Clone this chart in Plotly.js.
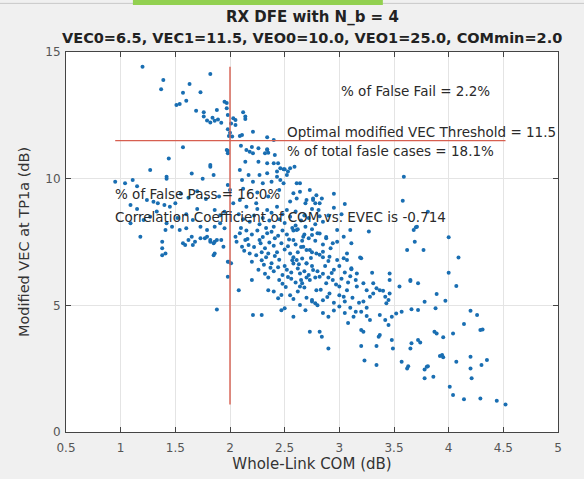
<!DOCTYPE html>
<html>
<head>
<meta charset="utf-8">
<script src="https://cdn.plot.ly/plotly-3.0.1.min.js"></script>
<style>
html,body{margin:0;padding:0;background:#f0f0f0;}
#chart{width:584px;height:479px;}
</style>
</head>
<body>
<div id="chart"></div>
<script>
// ---- data: [Whole-Link COM (dB), Modified VEC at TP1a (dB)] ----
const ptsUpperLeft = [
[1.20,14.42],[1.39,13.89],[1.37,13.53],[1.63,13.74],[1.82,14.13],[1.57,13.39],[1.73,13.41],[1.60,13.08],
[1.51,12.91],[1.54,12.95],[1.69,12.68],[1.76,12.62],[1.88,12.71],[1.95,13.04],[1.82,12.22],[1.86,12.29],
[1.89,12.34],[1.92,12.21],[1.84,12.40],[1.98,12.51],[2.01,12.18],[2.05,12.32],[2.12,12.62],[2.14,12.36],
[1.98,11.95],[2.00,11.81],[1.99,11.68],[2.21,11.85],[2.09,11.68],[2.34,11.63],[1.97,12.99],[1.97,12.78],
[2.14,12.45],[2.03,12.38],[2.05,12.12],[2.02,11.66],[2.11,11.72],[2.40,11.53],[1.79,12.30],[1.76,12.45]
];
const ptsLeft = [
[1.57,11.24],[1.98,11.10],[1.97,11.13],[1.98,11.00],[1.44,10.80],[1.27,10.34],[1.82,10.47],[1.42,10.08],
[1.42,10.00],[1.11,9.95],[0.95,9.88],[1.04,9.82],[1.15,9.70],[1.24,9.16],[1.30,9.09],[1.34,9.03],
[1.40,8.96],[1.45,8.89],[1.50,9.03],[1.85,10.14],[1.82,10.54],[1.98,9.75],[2.00,9.55],[1.86,8.76],
[1.91,8.56],[1.95,8.69],[1.42,8.24],[1.47,8.10],[1.54,7.97],[1.60,8.04],[1.66,8.37],[1.73,8.10],
[1.79,7.97],[1.86,8.10],[1.91,8.24],[1.95,8.04],[1.21,8.37],[1.09,8.24],[1.09,8.96],[1.18,7.71],
[1.38,7.51],[1.38,7.25],[1.41,7.05],[1.57,7.45],[1.62,7.58],[1.66,7.38],[1.65,7.71],[1.73,7.65],
[1.79,7.71],[1.82,7.51],[1.85,7.45],[1.88,7.58],[1.41,7.97],[1.38,6.98],[1.59,7.38],[1.68,7.51],
[1.86,7.05],[1.98,6.72],[1.98,6.13],[1.88,4.84],[1.55,9.40],[1.62,9.25],[1.70,9.50],[1.78,9.20],
[1.90,9.30],[1.70,8.80],[1.60,8.60],[1.52,8.45],[1.33,8.70],[1.27,8.50],[1.15,8.80],[1.75,10.00],
[1.65,10.20],[1.77,7.65],[1.82,7.58],[1.86,7.51],[1.92,7.58],[1.94,7.31],[1.85,6.98]
];
const ptsUpperCenter = [
[2.15,11.13],[2.18,11.06],[2.21,11.00],[2.32,11.00],[2.35,11.02],[2.34,11.13],[2.34,11.16],[2.41,10.93],
[2.14,10.67],[2.26,10.67],[2.34,10.61],[2.44,10.61],[2.46,10.41],[2.49,10.37],[2.53,10.28],[2.59,10.47],
[2.43,10.28],[2.50,10.37],[2.40,10.61],[2.55,10.41],[2.09,10.34],[2.17,10.14],[2.11,9.95],[2.27,10.14],
[2.34,10.21],[2.43,10.08],[2.52,10.14],[2.21,9.88],[2.30,9.82],[2.38,9.88],[2.46,9.95],[2.49,9.82],
[2.61,9.82],[2.64,9.48],[2.73,9.55],[2.76,9.16],[2.69,9.03],[2.64,9.82],[2.79,9.35],[2.84,9.22],
[2.78,9.03],[2.61,9.22],[2.58,9.42],[2.70,9.16],[2.76,9.22],[2.82,9.03],[2.81,8.76],[2.03,9.03],
[2.09,9.16],[2.15,8.89],[2.24,9.03],[2.34,8.76],[2.43,8.89],[2.52,8.76],[2.12,9.60],[2.25,9.45],
[2.35,9.30],[2.45,9.55],[2.55,9.10],[2.95,9.40],[3.05,9.00],[2.10,11.30],[2.20,11.25],[2.26,11.20],
[3.59,10.08],[3.58,9.13],[3.81,8.69],[3.71,8.10]
];
const ptsCore = [
[1.99,6.72],[2.01,6.66],[2.08,5.60],[2.05,7.71],[2.06,7.51],[2.09,7.85],[2.11,7.31],[2.14,7.58],
[2.17,7.38],[2.24,6.98],[2.29,7.10],[2.33,6.90],[2.35,7.05],[2.20,6.72],[2.31,6.60],[2.38,6.66],
[2.44,6.50],[2.34,7.85],[2.41,7.65],[2.47,7.45],[2.54,7.60],[2.60,7.40],[2.66,7.55],[2.35,6.10],
[2.45,6.00],[2.48,5.85],[2.56,6.05],[2.60,5.90],[2.65,6.00],[2.70,6.10],[2.45,6.80],[2.50,6.55],
[2.58,6.65],[2.66,6.85],[2.70,6.65],[2.75,6.55],[2.80,6.35],[2.65,7.30],[2.70,7.18],[2.75,7.10],
[2.82,7.00],[2.85,6.90],[2.90,6.75],[2.68,7.80],[2.72,7.65],[2.78,7.55],[2.85,7.40],[2.92,7.25],
[2.40,5.55],[2.55,5.40],[2.58,5.25],[2.70,5.30],[2.75,5.15],[2.80,5.00],[2.85,5.20],[2.95,5.10],
[2.62,5.55],[2.68,5.70],[2.47,4.81],[2.50,4.88],[2.58,4.55],[2.64,5.01],[2.69,4.81],[2.73,3.96],
[2.82,3.96],[2.84,3.76],[2.90,3.30],[2.47,5.41],[2.35,5.60],[2.20,6.00],[2.75,5.21],[2.78,5.08],
[2.21,4.62],[2.29,4.62],[2.12,8.40],[2.18,8.30],[2.22,8.55],[2.27,8.20],[2.30,8.45],[2.36,8.35],
[2.40,8.10],[2.45,8.40],[2.50,8.25],[2.55,8.50],[2.60,8.15],[2.65,8.35],[2.72,8.45],[2.78,8.20],
[2.85,8.30],[2.90,8.55],[2.10,8.05],[2.15,7.95],[2.20,7.80],[2.25,7.95],[2.30,7.70],[2.38,7.90],
[2.44,7.75],[2.48,7.95],[2.52,7.80],[2.58,7.95],[2.62,8.00],[2.75,8.00],[2.80,7.85],[2.88,7.70],
[2.13,7.15],[2.18,7.05],[2.22,7.30],[2.28,7.45],[2.32,7.25],[2.40,7.35],[2.43,7.10],[2.50,7.20],
[2.55,7.05],[2.58,6.90],[2.62,7.10],[2.26,6.40],[2.32,6.25],[2.40,6.35],[2.48,6.20],[2.52,6.40],
[2.56,6.30],[2.62,6.45],[2.68,6.35],[2.72,6.20],[2.78,6.10],[2.85,6.25],[2.90,6.10],[2.95,6.40],
[2.08,8.60],[2.25,8.80],[2.38,8.65],[2.48,8.60],[2.60,8.70],[2.68,8.55],[2.75,8.80],[2.95,8.85],
[3.02,8.60],[2.16,7.62],[2.27,7.58],[2.36,7.48],[2.53,7.33],[2.57,6.78],[2.41,6.95],[2.29,6.78],
[2.37,6.48],[2.53,6.12],[2.63,6.62],[2.74,6.87],[2.87,6.55],[2.93,6.28],[2.66,5.87],[2.83,5.62],
[2.97,5.82],[2.51,5.72],[2.44,5.28],[2.89,5.33],[2.33,8.05],[2.57,8.05],[2.69,8.10],[2.82,8.52]
];
const ptsMid = [
[2.98,7.97],[3.04,7.71],[2.94,7.45],[2.88,7.65],[2.82,7.84],[2.75,7.78],[2.67,7.71],[2.61,7.97],
[2.58,7.58],[2.67,7.31],[2.73,7.18],[2.79,7.05],[2.85,7.12],[2.91,6.92],[2.98,6.79],[3.04,6.86],
[3.07,7.05],[3.11,6.46],[3.16,6.26],[3.20,6.86],[2.61,6.79],[2.70,6.66],[2.76,6.39],[2.64,6.26],
[2.73,6.00],[2.82,6.13],[2.88,5.87],[2.94,6.00],[3.00,5.74],[3.07,5.60],[2.64,5.74],[2.79,5.60],
[2.91,5.47],[3.04,5.34],[3.16,5.74],[3.25,5.60],[3.31,5.87],[3.37,5.60],[3.46,5.47],[3.55,5.74],
[3.65,6.00],[3.28,5.34],[3.43,5.08],[3.10,7.97],[3.27,7.91],[3.68,7.97],[3.62,7.18],[3.46,6.00],
[3.00,6.55],[3.05,6.30],[3.10,6.15],[3.02,6.05],[3.08,5.90],[3.15,6.00],[3.00,5.40],[3.05,5.15],
[3.12,5.30],[3.18,5.10],[3.10,4.90],[3.15,4.75],[3.25,4.90],[3.22,5.15],[3.05,4.70],[3.00,4.95],
[3.13,4.55],[2.95,4.80],[2.90,4.55],[2.85,4.70],[3.08,4.30],[3.20,4.75]
];
const ptsRight = [
[3.70,8.08],[4.00,7.69],[3.69,7.51],[3.77,7.18],[4.09,6.89],[3.11,7.45],[2.98,7.51],[3.19,6.89],
[3.07,6.79],[3.11,6.42],[3.46,6.26],[3.30,6.29],[4.00,6.29],[3.65,5.96],[3.72,5.87],[4.07,5.76],
[3.22,5.87],[3.34,5.67],[3.40,5.58],[3.42,5.34],[3.45,5.21],[3.31,5.47],[3.89,5.45],[3.97,5.18],
[3.78,5.14],[3.88,4.88],[4.20,4.79],[4.26,4.62],[4.14,4.26],[4.29,4.03],[4.31,4.05],[3.66,4.85],
[3.72,4.82],[3.57,4.75],[3.52,4.68],[3.48,4.55],[3.37,4.62],[3.42,4.42],[3.45,4.22],[3.25,4.58],
[3.28,4.42],[3.20,4.03],[3.22,3.96],[3.36,3.76],[3.37,3.83],[3.48,3.63],[3.49,3.30],[3.20,3.39],
[3.34,3.39],[3.87,3.96],[3.89,3.89],[3.95,3.74],[4.04,3.89],[3.66,3.50],[3.72,3.63],[3.74,3.53],
[3.65,3.30],[3.57,2.77],[3.63,2.60],[3.62,2.51],[3.80,2.58],[3.78,2.47],[3.81,2.60],[3.94,3.04],
[3.95,2.95],[3.92,3.00],[4.07,2.77],[4.20,2.97],[4.20,2.51],[4.21,2.12],[4.30,2.64],[4.35,2.84],
[3.78,2.12],[3.86,2.18],[4.01,1.79],[4.04,1.46],[4.14,1.29],[4.29,1.32],[4.44,1.23],[4.52,1.09],
[3.23,2.82],[3.34,2.64]
];

const titleLine1 = "RX DFE with N_b = 4";
const titleLine2 = "VEC0=6.5, VEC1=11.5, VEO0=10.0, VEO1=25.0, COMmin=2.0";
const vecThreshold = 11.5;
const comMin = 2.0;
const falseFail = "2.2%";
const falsePass = "16.0%";
const totalFalse = "18.1%";
const corrCoef = "-0.714";

const allPts = [].concat(ptsUpperLeft, ptsLeft, ptsUpperCenter, ptsCore, ptsMid, ptsRight);
const com = allPts.map(p => p[0]);
const vec = allPts.map(p => p[1]);
const comLo = Math.min(...com), comHi = Math.max(...com);
const vecLo = Math.min(...vec), vecHi = Math.max(...vec);

const FONT = "DejaVu Sans, Verdana, sans-serif";
const txtFont = {family: FONT, size: 13.5, color: "#2a2a2a"};

const traces = [
  {x: com, y: vec, type: "scatter", mode: "markers",
   marker: {size: 4, color: "rgb(25,110,178)", line: {width: 0}}, hoverinfo: "x+y", showlegend: false},
  {x: [comLo, comHi], y: [vecThreshold, vecThreshold], type: "scatter", mode: "lines",
   line: {color: "rgb(215,95,80)", width: 1.4}, showlegend: false},
  {x: [comMin, comMin], y: [vecLo, vecHi], type: "scatter", mode: "lines",
   line: {color: "rgb(215,95,80)", width: 1.4}, showlegend: false}
];

const axisCommon = {
  showline: true, mirror: "ticks", linecolor: "#444444", linewidth: 1,
  ticks: "inside", ticklen: 5, tickcolor: "#444444",
  showgrid: true, gridcolor: "#e4e4e4", gridwidth: 1, zeroline: false,
  tickfont: {family: FONT, size: 12, color: "#555555"}
};

const layout = {
  width: 584, height: 479,
  margin: {l: 66, r: 26, t: 52, b: 47},
  paper_bgcolor: "#f0f0f0", plot_bgcolor: "#ffffff",
  showlegend: false,
  xaxis: Object.assign({}, axisCommon, {range: [0.5, 5], dtick: 0.5, tick0: 0.5, ticklabelstandoff: 5,
    title: {text: "Whole-Link COM (dB)", standoff: 2,
      font: {family: FONT, size: 15, color: "#333333"}}}),
  yaxis: Object.assign({}, axisCommon, {range: [0, 15], dtick: 5, ticklabelstandoff: 2,
    title: {text: "Modified VEC at TP1a (dB)", standoff: 12,
      font: {family: FONT, size: 14.5, color: "#333333"}}}),
  shapes: [
    {type: "line", xref: "paper", yref: "paper", x0: -0.2, x1: 1.1, y0: 1.128, y1: 1.128,
     line: {color: "#c8c8c8", width: 1}},
    {type: "rect", xref: "paper", yref: "paper", x0: 0.136, x1: 0.644, y0: 1.124, y1: 1.14,
     fillcolor: "rgb(146,208,80)", line: {width: 0}, layer: "above"}
  ],
  annotations: [
    {xref: "paper", yref: "paper", x: 0.5, y: 1.093, xanchor: "center", yanchor: "middle", showarrow: false,
     text: "<b>" + titleLine1 + "</b>", font: {family: FONT, size: 15, color: "#222222"}},
    {xref: "paper", yref: "paper", x: 0.5, y: 1.038, xanchor: "center", yanchor: "middle", showarrow: false,
     text: "<b>" + titleLine2 + "</b>", font: {family: FONT, size: 14.5, color: "#222222"}},
    {x: 3.0, y: 13.46, xanchor: "left", yanchor: "middle", showarrow: false,
     text: "% of False Fail = " + falseFail, font: txtFont},
    {x: 2.5, y: 11.84, xanchor: "left", yanchor: "middle", showarrow: false,
     text: "Optimal modified VEC Threshold = " + vecThreshold.toFixed(1), font: txtFont},
    {x: 2.5, y: 11.09, xanchor: "left", yanchor: "middle", showarrow: false,
     text: "% of total fasle cases = " + totalFalse, font: txtFont},
    {x: 0.93, y: 9.39, xanchor: "left", yanchor: "middle", showarrow: false,
     text: "% of False Pass = " + falsePass, font: txtFont},
    {x: 0.93, y: 8.49, xanchor: "left", yanchor: "middle", showarrow: false,
     text: "Correlation Coefficient of COM vs. EVEC is " + corrCoef, font: txtFont}
  ]
};

Plotly.newPlot("chart", traces, layout, {displayModeBar: false, staticPlot: true});
</script>
</body>
</html>
